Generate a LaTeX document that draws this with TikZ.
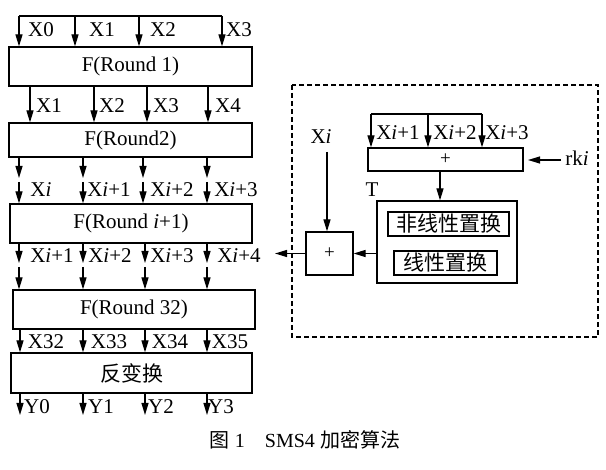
\documentclass[tikz,border=0pt]{standalone}
\usepackage{fontspec}
\setmainfont{Liberation Serif}
\newfontfamily\cjk{Noto Sans CJK SC}
\usetikzlibrary{arrows.meta}
\begin{document}
\begin{tikzpicture}[x=1pt,y=-1pt,
  box/.style={draw,line width=1.2pt,inner sep=0pt,fill=white},
  ln/.style={line width=1.2pt},
  arr/.style={line width=1.2pt,-{Triangle[length=12pt,width=7pt]}},
  lab/.style={inner sep=0pt,font=\fontsize{21}{25}\selectfont},
  every node/.style={font=\fontsize{21}{25}\selectfont}]
\useasboundingbox (0,0) rectangle (606,470);
% left column boxes
\node[box,minimum width=243pt,minimum height=39pt] (b1) at (130.5,66.5) {F(Round 1)};
\node[box,minimum width=243pt,minimum height=34pt] (b2) at (130.5,140) {F(Round2)};
\node[box,minimum width=242pt,minimum height=39pt] (b3) at (131,223.5) {F(Round \textit{i}+1)};
\node[box,minimum width=242pt,minimum height=39pt] (b4) at (134,309.5) {F(Round 32)};
\node[box,minimum width=241pt,minimum height=40pt] (b5) at (131.5,373) {\cjk 反变换};
% top input
\coordinate (t0) at (19,16);
\coordinate (t3) at (222,16);
\draw[ln] (t0) -- (t3);
\foreach \x in {19,75,139,222} \draw[arr] (\x,16) -- (\x,0 |- b1.north);
\node[lab] (l0) at (41,30) {X0};
\node[lab] (l1) at (102,30) {X1};
\node[lab] (l2) at (163,30) {X2};
\node[lab] (l3) at (239,30) {X3};
% b1 -> b2
\foreach \x in {30,94,147,208} \draw[arr] (\x,0 |- b1.south) -- (\x,0 |- b2.north);
\node[lab] at (49,106) {X1};
\node[lab] at (112,106) {X2};
\node[lab] at (166,106) {X3};
\node[lab] at (228,106) {X4};
% b2 -> b3
\foreach \x in {19,83,143,207} {
  \draw[arr] (\x,0 |- b2.south) -- (\x,178);
  \draw[arr] (\x,182) -- (\x,0 |- b3.north);
}
\node[lab] at (41,190) {X\textit{i}};
\node[lab] at (109,190) {X\textit{i}+1};
\node[lab] at (172,190) {X\textit{i}+2};
\node[lab] at (236,190) {X\textit{i}+3};
% b3 -> b4
\foreach \x in {19,83,145,207} {
  \draw[arr] (\x,0 |- b3.south) -- (\x,263);
  \draw[arr] (\x,267) -- (\x,0 |- b4.north);
}
\node[lab] at (52,256) {X\textit{i}+1};
\node[lab] at (110,256) {X\textit{i}+2};
\node[lab] at (172,256) {X\textit{i}+3};
\node[lab] at (239,256) {X\textit{i}+4};
% b4 -> b5
\foreach \x in {20,83,145,207} \draw[arr] (\x,0 |- b4.south) -- (\x,0 |- b5.north);
\node[lab] at (46,342) {X32};
\node[lab] at (109,342) {X33};
\node[lab] at (170,342) {X34};
\node[lab] at (230,342) {X35};
% outputs
\foreach \x in {20,83,145,207} \draw[arr] (\x,0 |- b5.south) -- (\x,415);
\node[lab] at (37,407) {Y0};
\node[lab] at (101,407) {Y1};
\node[lab] at (161,407) {Y2};
\node[lab] at (221,407) {Y3};
% right: round function detail
\draw[line width=1.2pt,dash pattern=on 5pt off 3pt] (292,85) rectangle (598,337);
\node[box,minimum width=155pt,minimum height=23pt,font=\fontsize{19}{22}\selectfont] (add) at (445.5,159.5) {+};
\node[box,minimum width=140pt,minimum height=82pt] (T) at (447,242) {};
\node[box,minimum width=121pt,minimum height=24pt] (nl) at (448.5,224) {\cjk 非线性置换};
\node[box,minimum width=103pt,minimum height=24pt] (li) at (445.5,263) {\cjk 线性置换};
\node[box,minimum width=47pt,minimum height=43pt,font=\fontsize{19}{22}\selectfont] (xr) at (329.5,253.5) {+};
\node[lab] (Tl) at (372,190) {T};
\node[lab] (xi) at (321,137) {X\textit{i}};
\node[lab] (rk) at (577,158) {rk\textit{i}};
\coordinate (r0) at (371,114);
\coordinate (r2) at (482,114);
\draw[ln] (r0) -- (r2);
\foreach \x in {371,428,482} \draw[arr] (\x,114) -- (\x,0 |- add.north);
\node[lab] at (398,133) {X\textit{i}+1};
\node[lab] at (455,133) {X\textit{i}+2};
\node[lab] at (507,133) {X\textit{i}+3};
\draw[arr] (561,160) -- (528,160);
\draw[arr] (440,0 |- add.south) -- (440,0 |- T.north);
\draw[arr] (327,152) -- (327,0 |- xr.north);
\draw[arr] (T.west |- xr.east) -- (xr.east);
\coordinate (out) at (275,253.5);
\draw[arr] (xr.west) -- (out);
% caption
\node[font=\fontsize{20}{23}\selectfont] (cap) at (305,440) {{\cjk 图} 1\quad SMS4 {\cjk 加密算法}};
\end{tikzpicture}
\end{document}
